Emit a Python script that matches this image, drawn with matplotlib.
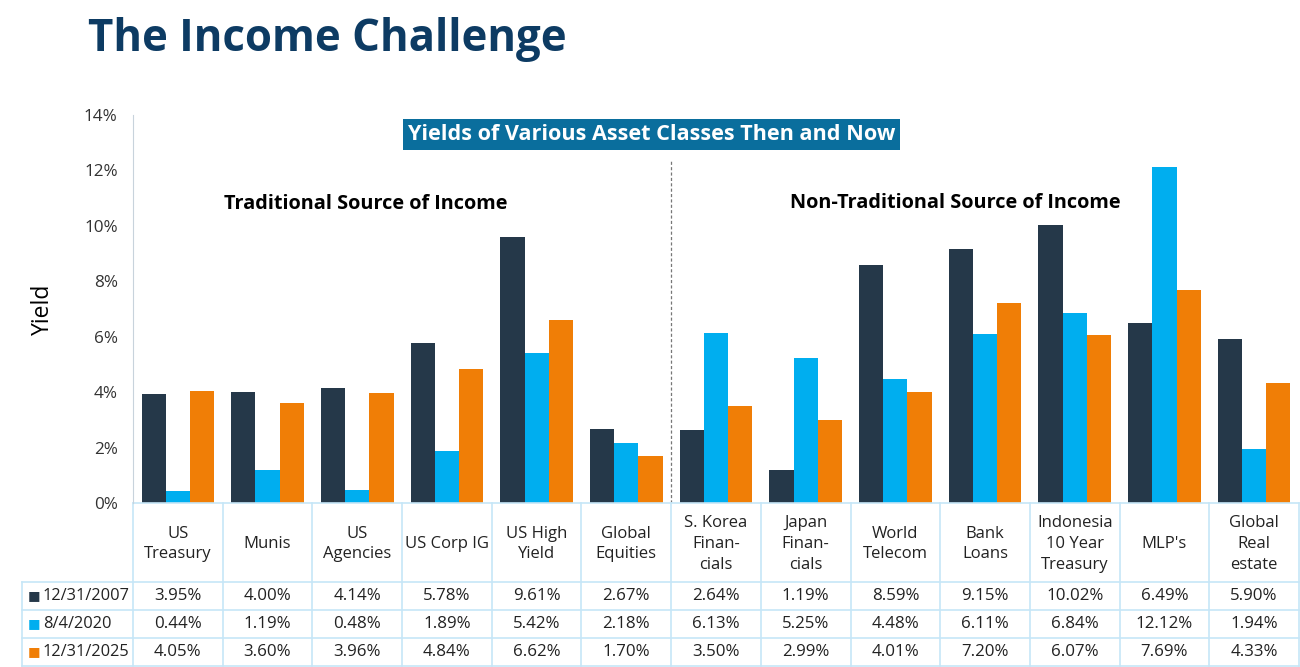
import numpy as np
import matplotlib
matplotlib.use("Agg")
import matplotlib.pyplot as plt
from matplotlib.transforms import blended_transform_factory

plt.rcParams['font.family'] = ['Open Sans', 'DejaVu Sans']

# Dati
categories = ["US\nTreasury", "Munis", "US\nAgencies", "US Corp IG", "US High\nYield",
              "Global\nEquities", "S. Korea\nFinan-\ncials", "Japan\nFinan-\ncials",
              "World\nTelecom", "Bank\nLoans", "Indonesia\n10 Year\nTreasury", "MLP's",
              "Global\nReal\nestate"]
series_names = ["12/31/2007", "8/4/2020", "12/31/2025"]
y2007 = [3.95, 4.00, 4.14, 5.78, 9.61, 2.67, 2.64, 1.19, 8.59, 9.15, 10.02, 6.49, 5.90]
y2020 = [0.44, 1.19, 0.48, 1.89, 5.42, 2.18, 6.13, 5.25, 4.48, 6.11, 6.84, 12.12, 1.94]
y2025 = [4.05, 3.60, 3.96, 4.84, 6.62, 1.70, 3.50, 2.99, 4.01, 7.20, 6.07, 7.69, 4.33]
colors = ["#253849", "#00AEEF", "#F07E06"]

W, H = 1300, 667
fig = plt.figure(figsize=(13, 6.67), dpi=100)
ax = fig.add_axes([133 / W, 1 - 503 / H, 1166 / W, 388 / H])

n = len(categories)
x = np.arange(n)
bw = 0.27
for i, (vals, c) in enumerate(zip([y2007, y2020, y2025], colors)):
    ax.bar(x + (i - 1) * bw, vals, bw, color=c, zorder=2)

ax.set_xlim(-0.5, n - 0.5)
ax.set_ylim(0, 14)
ax.set_yticks(range(0, 15, 2))
ax.set_yticklabels([f"{v}%" for v in range(0, 15, 2)], fontsize=12.3, color="#333333")
ax.set_xticks([])
for s in ["top", "right", "bottom"]:
    ax.spines[s].set_visible(False)
ax.spines["left"].set_color("#C8D3DC")
ax.tick_params(axis="y", length=0, pad=11)
ax.set_ylabel("Yield", fontsize=16.5, labelpad=21)

# linea tratteggiata tra le due sezioni
ax.plot([5.5, 5.5], [0, 12.35], ls=(0, (2.5, 1.8)), color="#777777", lw=0.9, zorder=1)

# etichette delle sezioni
ax.text(2.09, 10.8, "Traditional Source of Income", ha="center", va="center",
        fontsize=14.3, fontweight="bold")
ax.text(8.67, 10.82, "Non-Traditional Source of Income", ha="center", va="center",
        fontsize=14.3, fontweight="bold")
ax.text(5.28, 13.3, "Yields of Various Asset Classes Then and Now", ha="center", va="center",
        fontsize=15.6, fontweight="bold", color="white",
        bbox=dict(boxstyle="square,pad=0.22", fc="#0A6E9D", ec="none"))

# titolo
fig.text(88 / W, 1 - 40 / H, "The Income Challenge", fontsize=31.5, fontweight="bold",
         color="#0D3B63", va="center", ha="left")

# tabella sotto il grafico
tr = blended_transform_factory(ax.transData, ax.transAxes)
line_c = "#C6E6F7"
hdr = -79 / 388
rh = 28 / 388
rows_y = [hdr - k * rh for k in range(4)]
x_left = -0.5 - 111 / (1166 / n)

ax.plot([-0.5, n - 0.5], [0, 0], color=line_c, lw=1.2, transform=tr, clip_on=False)
for yy in rows_y:
    ax.plot([x_left, n - 0.5], [yy, yy], color=line_c, lw=1.2, transform=tr, clip_on=False)
for b in np.arange(-0.5, n, 1.0):
    ax.plot([b, b], [0, rows_y[-1]], color=line_c, lw=1.2, transform=tr, clip_on=False)
ax.plot([x_left, x_left], [hdr, rows_y[-1]], color=line_c, lw=1.2, transform=tr, clip_on=False)

for j, cat in enumerate(categories):
    ax.text(j, hdr / 2 - 0.004, cat, ha="center", va="center", fontsize=12, color="#222222",
            transform=tr, linespacing=1.38)
    for k, vals in enumerate([y2007, y2020, y2025]):
        ax.text(j, hdr - (k + 0.5) * rh, f"{vals[j]:.2f}%", ha="center",
                va="center", fontsize=12.2, color="#222222", transform=tr)

for k, (name, c) in enumerate(zip(series_names, colors)):
    yc = hdr - (k + 0.5) * rh
    ax.text(x_left + 0.06, yc, "\u25A0", ha="left", va="center", fontsize=9.5, color=c,
            transform=tr, family=["DejaVu Sans"])
    ax.text(x_left + 0.23, yc, name, ha="left", va="center", fontsize=11.8, color="#222222",
            transform=tr)

fig.savefig("out.png", dpi=100)
